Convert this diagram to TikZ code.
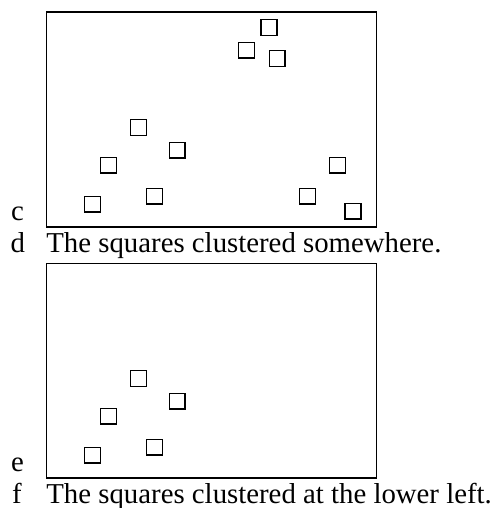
\documentclass[tikz,border=0pt]{standalone}
\usepackage{fontspec}
\setmainfont{Liberation Serif}
\begin{document}
\begin{tikzpicture}[x=1pt,y=-1pt,
  sq/.style={draw,line width=1.7pt,minimum size=15.8pt,inner sep=0pt,outer sep=0pt},
  frame/.style={draw,line width=1.8pt},
  lbl/.style={anchor=base west,inner sep=0pt,font=\fontsize{28.8}{34}\selectfont}]
\useasboundingbox (0,0) rectangle (495,508);
% top panel
\draw[frame] (46.5,11.8) rectangle (376.5,227.3);
\foreach \n/\x/\y in {a1/269.2/27.5, a2/246.5/50.3, a3/277.3/58.5, a4/138.5/127.5,
  a5/177.3/150.3, a6/108.5/165.3, a7/154.5/196.3, a8/92.5/204.3,
  a9/307.5/196.3, a10/337.5/165.3, a11/353.2/211.3}
  \node[sq] (\n) at (\x,\y) {};
\node[lbl] (c) at (11,220) {c};
\node[lbl] (d) at (10.5,252) {d};
\node[lbl] (dt) at (46.2,252) {The squares clustered somewhere.};
% bottom panel
\draw[frame] (46.5,263.5) rectangle (376.5,478.3);
\foreach \n/\x/\y in {b4/138.5/127.5, b5/177.3/150.3, b6/108.5/165.3,
  b7/154.5/196.3, b8/92.5/204.3}
  \node[sq] (\n) at (\x,\y+251) {};
\node[lbl] (e) at (11,471) {e};
\node[lbl] (f) at (12,503) {f};
\node[lbl] (ft) at (46.2,503) {The squares clustered at the lower left.};
\end{tikzpicture}
\end{document}
